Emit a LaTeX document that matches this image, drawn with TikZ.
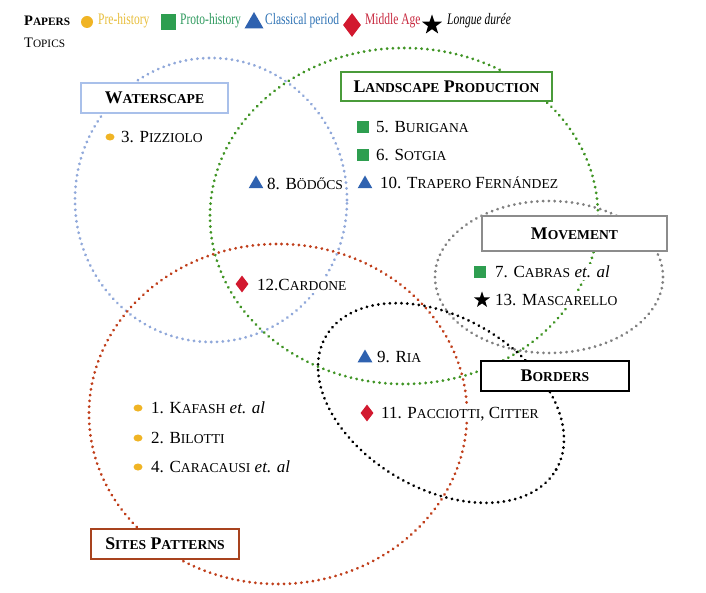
\documentclass[tikz,border=0pt]{standalone}
\usepackage{graphicx}
\usepackage{fontspec}
\setmainfont{Liberation Serif}
\usetikzlibrary{shapes.geometric, decorations.markings}
\definecolor{preY}{HTML}{F0B424}
\definecolor{preT}{HTML}{E8BE3A}
\definecolor{protoG}{HTML}{2E9E50}
\definecolor{protoT}{HTML}{2E9A5E}
\definecolor{classB}{HTML}{2F62B0}
\definecolor{classT}{HTML}{2F73B5}
\definecolor{midR}{HTML}{D2192F}
\definecolor{midT}{HTML}{C82A40}
\definecolor{blueC}{HTML}{90A8DA}
\definecolor{greenC}{HTML}{3F9424}
\definecolor{redC}{HTML}{C03E1A}
\definecolor{grayC}{HTML}{808080}
\definecolor{waterB}{HTML}{A9C0EA}
\definecolor{landB}{HTML}{4A9B3A}
\definecolor{moveB}{HTML}{8C8C8C}
\definecolor{siteB}{HTML}{A8431E}
\newcommand\ifont{\fontsize{17}{17}\selectfont}
\newcommand\hfont{\fontsize{17.8}{17.8}\selectfont\bfseries}
\newcommand\scx[1]{{\fontsize{13.6}{13.6}\selectfont #1}}
\newcommand\lfont{\fontsize{14.5}{14.5}\selectfont}
\newcommand\lsc[1]{{\fontsize{11.3}{11.3}\selectfont #1}}
\newcommand\legfont{\fontsize{16}{16}\selectfont}
\tikzset{
  dotpath/.style={postaction={decorate}, decoration={markings,
      mark=between positions 0 and 1 step 5.8pt with {\fill[#1] (0,0) circle (1.55pt);}}},
  topicbox/.style={draw, fill=white, line width=1.6pt, inner sep=0pt, font=\hfont},
  item/.style={anchor=west, fill=white, inner xsep=1pt, inner ysep=2pt, text height=11.5pt, text depth=0pt, font=\ifont},
  legtext/.style={anchor=west, inner sep=0pt, font=\legfont},
  premark/.style={ellipse, fill=preY, minimum width=9pt, minimum height=7pt, inner sep=0pt},
  protomark/.style={rectangle, fill=protoG, minimum size=12pt, inner sep=0pt},
  classmark/.style={regular polygon, regular polygon sides=3, fill=classB, minimum size=17pt, inner sep=0pt},
  midmark/.style={diamond, fill=midR, minimum width=13pt, minimum height=17pt, inner sep=0pt},
  longmark/.style={star, star points=5, star point ratio=2.5, fill=black, minimum size=17pt, inner sep=0pt},
}
\begin{document}
\begin{tikzpicture}[x=1pt,y=-1pt]
\fill[white] (0,0) rectangle (706,593);
\useasboundingbox (0,0) rectangle (706,593);

% legend
\node[anchor=west, inner sep=0pt, font=\lfont\bfseries] (papers) at (24,21) {P\lsc{APERS}};
\node[anchor=west, inner sep=0pt, font=\lfont] (topics) at (24,43) {T\lsc{OPICS}};
\node[circle, fill=preY, minimum size=12pt, inner sep=0pt] (lpre) at (87,22) {};
\node[legtext, text=preT] (tpre) at (98,21) {\scalebox{0.72}[1]{Pre-history}};
\node[rectangle, fill=protoG, minimum width=15pt, minimum height=16pt, inner sep=0pt] (lproto) at (168,22) {};
\node[legtext, text=protoT] (tproto) at (180,21) {\scalebox{0.72}[1]{Proto-history}};
\node[regular polygon, regular polygon sides=3, fill=classB, minimum size=22pt, inner sep=0pt] (lclass) at (254,23) {};
\node[legtext, text=classT] (tclass) at (265,21) {\scalebox{0.72}[1]{Classical period}};
\node[diamond, fill=midR, minimum width=18pt, minimum height=24pt, inner sep=0pt] (lmid) at (352,25) {};
\node[legtext, text=midT] (tmid) at (365,21) {\scalebox{0.72}[1]{Middle Age}};
\node[star, star points=5, star point ratio=2.5, fill=black, minimum size=21pt, inner sep=0pt] (llong) at (432,25) {};
\node[legtext] (tlong) at (447,21) {\scalebox{0.72}[1]{\itshape Longue durée}};

% topic circles
\path[dotpath=blueC] (211,200) ellipse [x radius=136pt, y radius=142pt];
\path[dotpath=greenC] (404,216) ellipse [x radius=194pt, y radius=168pt];
\path[dotpath=redC] (278,414) ellipse [x radius=189pt, y radius=170pt];
\path[dotpath=grayC] (549,277) ellipse [x radius=114pt, y radius=76pt];
\path[dotpath=black, rotate around={-30:(441,403)}] (441,403) ellipse [x radius=133pt, y radius=86pt];

% topic boxes
\node[topicbox, draw=waterB, minimum width=147pt, minimum height=30pt] (water) at (154.5,98) {W\scx{ATERSCAPE}};
\node[topicbox, draw=landB, minimum width=211pt, minimum height=29pt] (land) at (446.5,86.5) {L\scx{ANDSCAPE} P\scx{RODUCTION}};
\node[topicbox, draw=moveB, minimum width=185pt, minimum height=35pt] (move) at (574.5,233.5) {M\scx{OVEMENT}};
\node[topicbox, draw=black, minimum width=148pt, minimum height=30pt] (bord) at (555,376) {B\scx{ORDERS}};
\node[topicbox, draw=siteB, minimum width=148pt, minimum height=30pt] (site) at (165,544) {S\scx{ITES} P\scx{ATTERNS}};

% papers
\node[premark] (m3) at (110,137) {};
\node[item] (p3) at (120,137) {3. P\scx{IZZIOLO}};
\node[classmark] (m8) at (256,184) {};
\node[item] (p8) at (266,184) {8. B\scx{ÖDŐCS}};
\node[protomark] (m5) at (363,127) {};
\node[item] (p5) at (375,127) {5. B\scx{URIGANA}};
\node[protomark] (m6) at (363,155) {};
\node[item] (p6) at (375,155) {6. S\scx{OTGIA}};
\node[classmark] (m10) at (365,184) {};
\node[item] (p10) at (379,183) {10. T\scx{RAPERO} F\scx{ERNÁNDEZ}};
\node[midmark] (m12) at (242,284) {};
\node[item] (p12) at (256,285) {12.C\scx{ARDONE}};
\node[protomark] (m7) at (480,272) {};
\node[item] (p7) at (494,272) {7. C\scx{ABRAS} \textit{et. al}};
\node[longmark] (m13) at (482,300) {};
\node[item] (p13) at (494,300) {13. M\scx{ASCARELLO}};
\node[classmark] (m9) at (365,358) {};
\node[item] (p9) at (376,357) {9. R\scx{IA}};
\node[midmark] (m11) at (367,413) {};
\node[item] (p11) at (380,413) {11. P\scx{ACCIOTTI}, C\scx{ITTER}};
\node[premark] (m1) at (138,408) {};
\node[item] (p1) at (150,408) {1. K\scx{AFASH} \textit{et. al}};
\node[premark] (m2) at (138,438) {};
\node[item] (p2) at (150,438) {2. B\scx{ILOTTI}};
\node[premark] (m4) at (138,467) {};
\node[item] (p4) at (150,467) {4. C\scx{ARACAUSI} \textit{et. al}};
\end{tikzpicture}
\end{document}
